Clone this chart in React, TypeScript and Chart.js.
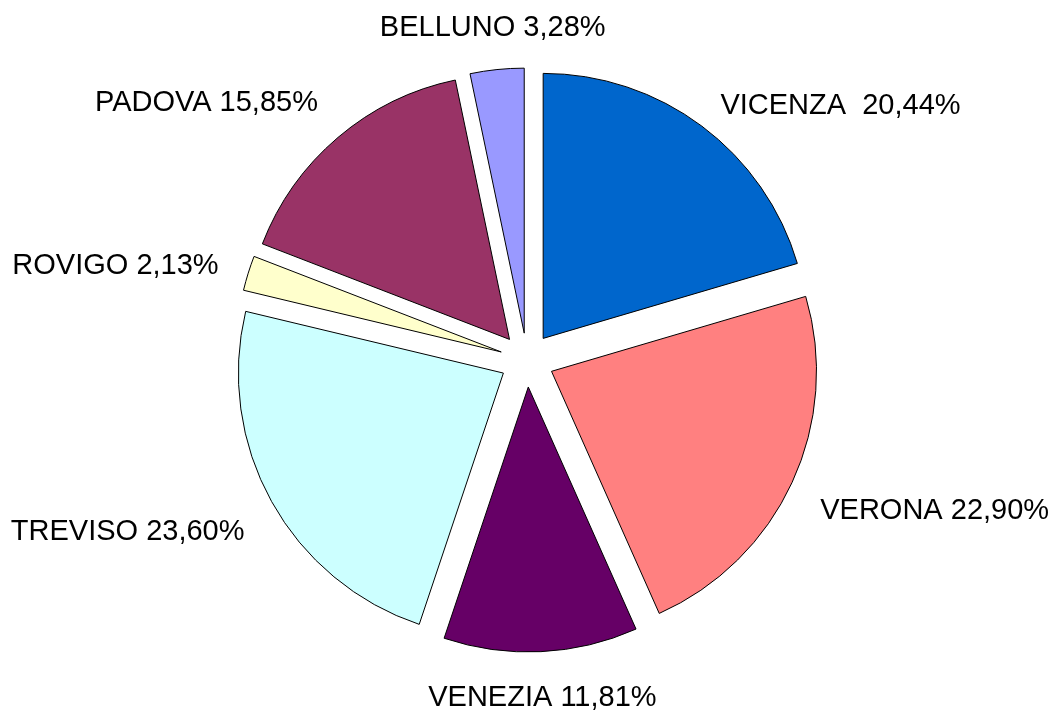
import React, { useEffect, useRef } from 'react';
import { Chart, registerables } from 'chart.js';

Chart.register(...registerables);

// Data (clockwise from 12 o'clock)
const categories = ['VICENZA ', 'VERONA', 'VENEZIA', 'TREVISO', 'ROVIGO', 'PADOVA', 'BELLUNO'];
const shares = [20.44, 22.9, 11.81, 23.6, 2.13, 15.85, 3.28];
const sliceColors = ['#0066CC', '#FF8080', '#660066', '#CCFFFF', '#FFFFCC', '#993366', '#9999FF'];

const W = 1055;
const H = 716;
const RADIUS = 265;
const EXPLODE = 27;
const LABEL_GAP = 31;
const FONT_SIZE = 29;
const FONT = `${FONT_SIZE}px 'Liberation Sans', Arial, sans-serif`;
// manual vertical nudge of individual labels (layout only), keyed by slice index
const LABEL_NUDGE_Y: Record<number, number> = { 0: 15 };

const fmt = (v: number) => v.toFixed(2).replace('.', ',') + '%';

const explodePlugin = {
  id: 'explodeSlices',
  afterDatasetUpdate(chart: any, args: any) {
    const meta = args.meta ?? chart.getDatasetMeta(args.index);
    meta.data.forEach((arc: any) => {
      const mid = (arc.startAngle + arc.endAngle) / 2;
      arc.x += Math.cos(mid) * EXPLODE;
      arc.y += Math.sin(mid) * EXPLODE;
    });
  },
};

const labelPlugin = {
  id: 'outsideLabels',
  afterDraw(chart: any) {
    const ctx = chart.ctx as CanvasRenderingContext2D;
    const meta = chart.getDatasetMeta(0);
    const area = chart.chartArea;
    const cx = (area.left + area.right) / 2;
    const cy = (area.top + area.bottom) / 2;
    ctx.save();
    ctx.font = FONT;
    ctx.fillStyle = '#000';
    ctx.textAlign = 'center';
    ctx.textBaseline = 'alphabetic';
    const capH = FONT_SIZE * 0.716;
    const boxH = 26;
    meta.data.forEach((arc: any, i: number) => {
      const mid = (arc.startAngle + arc.endAngle) / 2;
      const dx = Math.cos(mid);
      const dy = Math.sin(mid);
      const d = arc.outerRadius + EXPLODE + LABEL_GAP;
      const px = cx + dx * d;
      const py = cy + dy * d;
      const text = categories[i] + ' ' + fmt(shares[i]);
      const w = ctx.measureText(text).width;
      const fx = Math.min(1, Math.max(0, (Math.abs(dx) - 0.1) / 0.3));
      const fy = Math.min(1, Math.max(0, (Math.abs(dy) - 0.3) / 0.1));
      const x = px + Math.sign(dx) * fx * (w / 2);
      const y = py + Math.sign(dy) * fy * (boxH / 2) + (LABEL_NUDGE_Y[i] || 0);
      ctx.fillText(text, x, y + capH / 2);
    });
    ctx.restore();
  },
};

export default function App() {
  const ref = useRef<HTMLCanvasElement | null>(null);

  useEffect(() => {
    document.body.style.margin = '0';
    const canvas = ref.current;
    if (!canvas) return;
    const chart = new Chart(canvas, {
      type: 'pie',
      data: {
        labels: categories,
        datasets: [
          {
            data: shares,
            backgroundColor: sliceColors,
            borderColor: '#000000',
            borderWidth: 1,
            radius: RADIUS,
          } as any,
        ],
      },
      options: {
        responsive: false,
        animation: false,
        layout: { padding: { top: 4, right: 1, left: 0, bottom: 0 } },
        plugins: {
          legend: { display: false },
          tooltip: { enabled: false },
        },
        events: [],
      },
      plugins: [explodePlugin, labelPlugin],
    });
    return () => chart.destroy();
  }, []);

  return (
    <div style={{ position: 'absolute', left: 0, top: 0, background: '#fff' }}>
      <canvas ref={ref} width={W} height={H} style={{ display: 'block', width: W, height: H }} />
    </div>
  );
}
